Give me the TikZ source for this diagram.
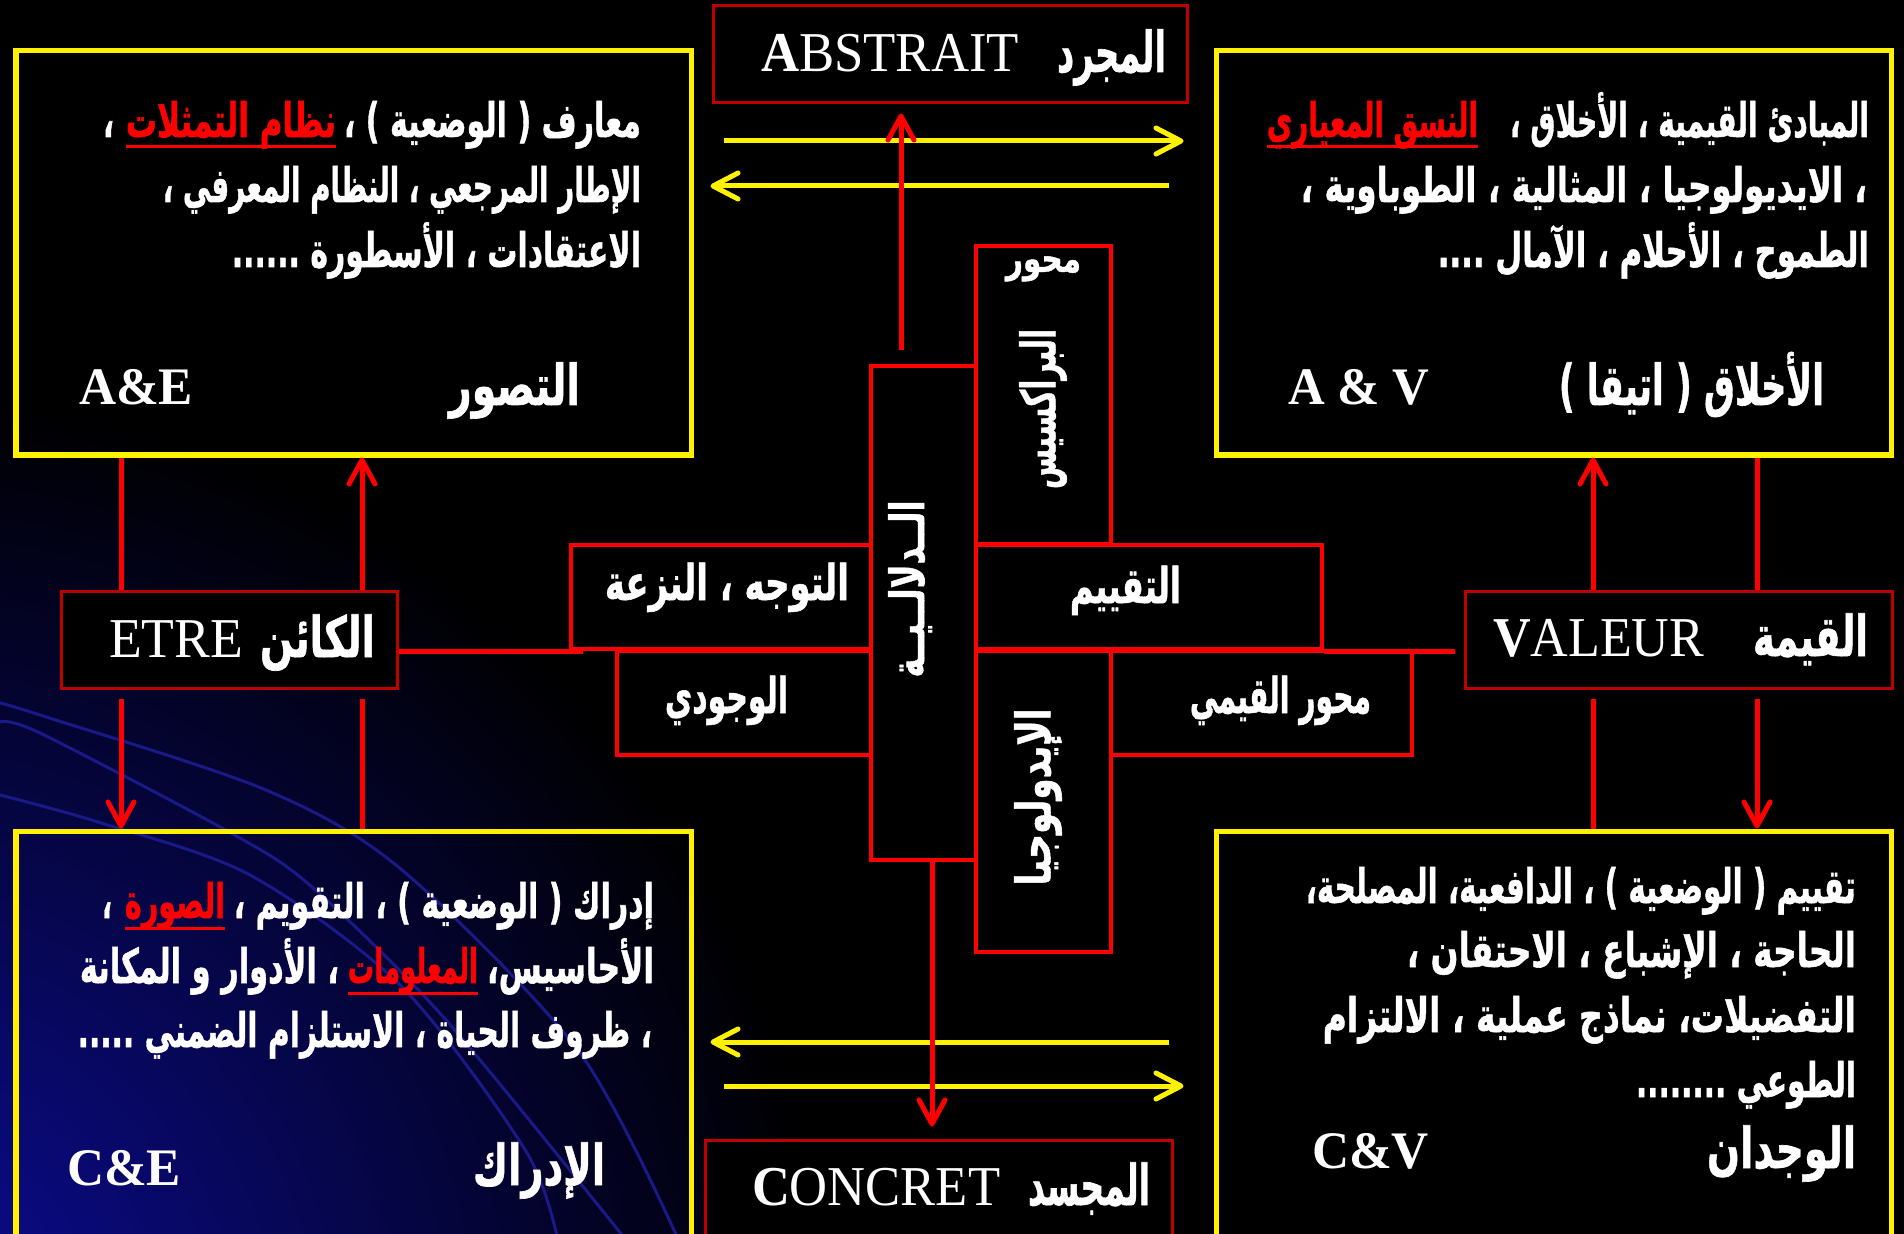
\documentclass[tikz,border=0pt]{standalone}
\usepackage{fontspec}
\usepackage{graphicx}
\setmainfont{Liberation Serif}
\newfontfamily\ar[Script=Arabic, BoldFeatures={FakeBold=1.2}]{DejaVu Sans}
\TeXXeTstate=1
\usetikzlibrary{arrows.meta,fit}
\definecolor{darkred}{RGB}{192,0,0}
\definecolor{bgblue}{RGB}{12,12,155}
\definecolor{arcblue}{RGB}{25,25,135}
\newbox\fitb
\newdimen\fitd
\newcommand\fitx[2]{\setbox\fitb\hbox{#2}\fitd=\wd\fitb\pgfmathsetmacro\fitr{#1*0.284528/\the\fitd}\scalebox{\fitr}[1]{\box\fitb}}
\newcommand\AR[1]{\beginR#1\endR}
\begin{document}
\begin{tikzpicture}[x=0.01cm,y=-0.01cm,
  ybox/.style={draw=yellow, line width=0.05cm, inner sep=0pt},
  rbox/.style={draw=darkred, line width=0.03cm, fill=black, inner sep=0pt},
  cbox/.style={draw=red, line width=0.045cm, fill=black, inner sep=0pt},
  yarrow/.style={draw=yellow, line width=0.05cm, -{Straight Barb[length=0.25cm,width=0.26cm,round]}},
  rline/.style={draw=red, line width=0.05cm},
  rarrow/.style={rline, -{Straight Barb[length=0.24cm,width=0.26cm,round]}},
  uline/.style={draw=red, line width=0.03cm},
  txt/.style={text=white, inner sep=0pt, outer sep=0pt},
  body/.style={txt, font=\ar\bfseries\fontsize{13.5pt}{15pt}\selectfont},
  redw/.style={body, text=red},
  arhead/.style={txt, font=\ar\bfseries\fontsize{16pt}{18pt}\selectfont},
  lab/.style={txt, font=\ar\bfseries\fontsize{14pt}{16pt}\selectfont},
  rlab/.style={txt, font=\ar\bfseries\fontsize{13.5pt}{15pt}\selectfont, rotate=90},
  code/.style={txt, font=\bfseries\fontsize{15pt}{17pt}\selectfont},
  lat/.style={txt, font=\fontsize{16pt}{18pt}\selectfont},
  arcline/.style={draw=arcblue, line width=0.03cm}
]
\path[use as bounding box, clip] (0,0) rectangle (1904,1234);
\fill[black] (0,0) rectangle (1904,1234);
\shade[inner color=bgblue, outer color=black] (-120,1340) circle (950);
\draw[arcline] plot[smooth] coordinates {(0,703) (40,715) (266,790) (402,870) (580,1053) (683,1250)};
\draw[arcline] plot[smooth] coordinates {(0,722) (40,733) (231,833) (312,887) (446,1020) (634,1250)};
\draw[arcline] plot[smooth] coordinates {(0,795) (98,822) (250,875) (402,987) (527,1153) (560,1250)};

% yellow boxes
\node[ybox, fit={(16,51) (691,455)}] (tl) {};
\node[ybox, fit={(1216,51) (1891,455)}] (tr) {};
\node[ybox, fit={(16,831) (691,1260)}] (bl) {};
\node[ybox, fit={(1216,831) (1891,1260)}] (br) {};

% red title boxes
\node[rbox, fit={(713,6) (1187,103)}] (abstrait) {};
\node[rbox, fit={(705,1140) (1172,1260)}] (concret) {};
\node[rbox, fit={(61,591) (397,688)}] (etre) {};
\node[rbox, fit={(1465,591) (1892,688)}] (valeur) {};

% central cross
\node[cbox, fit={(871,366) (976,860)}] (dalal) {};
\node[cbox, fit={(976,246) (1111,544)}] (praxis) {};
\node[cbox, fit={(976,545) (1322,649)}] (taqyim) {};
\node[cbox, fit={(976,651) (1111,952)}] (ideo) {};
\node[cbox, fit={(1111,651) (1412,755)}] (qiyami) {};
\node[cbox, fit={(571,545) (871,649)}] (tawajoh) {};
\node[cbox, fit={(617,651) (871,755)}] (wujudi) {};

% helper coordinates
\coordinate (ya) at (0,141);
\coordinate (yb) at (0,186);
\coordinate (yc) at (0,1042);
\coordinate (yd) at (0,1086);
\coordinate (xl) at (121,0);
\coordinate (xr) at (362,0);
\coordinate (vl) at (1593,0);
\coordinate (vr) at (1757,0);
\coordinate (ab1) at (901,350);
\coordinate (cc) at (932,0);

% yellow arrows
\draw[yarrow, shorten <=0.3cm, shorten >=0.3cm] (tl.east |- ya) -- (tr.west |- ya);
\draw[yarrow, shorten <=0.44cm, shorten >=0.17cm] (tr.west |- yb) -- (tl.east |- yb);
\draw[yarrow, shorten <=0.44cm, shorten >=0.17cm] (br.west |- yc) -- (bl.east |- yc);
\draw[yarrow, shorten <=0.3cm, shorten >=0.3cm] (bl.east |- yd) -- (br.west |- yd);

% red connectors
\draw[rline] (etre.north -| xl) -- (tl.south -| xl);
\draw[rarrow] (etre.north -| xr) -- (tl.south -| xr);
\draw[rarrow, shorten <=0.09cm] (etre.south -| xl) -- (bl.north -| xl);
\draw[rline, shorten <=0.09cm] (etre.south -| xr) -- (bl.north -| xr);
\draw[rarrow] (valeur.north -| vl) -- (tr.south -| vl);
\draw[rline] (tr.south -| vr) -- (valeur.north -| vr);
\draw[rline, shorten <=0.09cm] (valeur.south -| vl) -- (br.north -| vl);
\draw[rarrow, shorten <=0.09cm] (valeur.south -| vr) -- (br.north -| vr);
\draw[rline] (tawajoh.south west -| etre.east) -- ([xshift=0.14cm]tawajoh.south west);
\draw[rline, shorten >=0.09cm] (taqyim.south east) -- (valeur.west |- taqyim.south east);
\draw[rarrow, shorten >=0.09cm] (ab1) -- (abstrait.south -| ab1);
\draw[rarrow, shorten >=0.12cm] (dalal.south -| cc) -- (concret.north -| cc);

% texts: top-left
\node[body, anchor=base east] (tl1a) at (641,137) {\fitx{297}{\AR{معارف ( الوضعية ) ،}}};
\node[redw, anchor=base east] (tl1b) at (336,137) {\fitx{210}{\AR{نظام التمثلات}}};
\node[body, anchor=base east] (tl1c) at (114,137) {\fitx{11}{\AR{،}}};
\draw[uline] ([yshift=-0.1cm]tl1b.base west) -- ([yshift=-0.1cm]tl1b.base east);
\node[body, anchor=base east] (tl2) at (641,202) {\fitx{478}{\AR{الإطار المرجعي ، النظام المعرفي ،}}};
\node[body, anchor=base east] (tl3) at (641,267) {\fitx{409}{\AR{الاعتقادات ، الأسطورة ......}}};
\node[arhead, anchor=base east] (tlh) at (580,405) {\fitx{131}{\AR{التصور}}};
\node[code, anchor=base west] (tlc) at (79,405) {\fitx{114}{A\&E}};

% top-right
\node[body, anchor=base east] (tr1a) at (1869,137) {\fitx{359}{\AR{المبادئ القيمية ، الأخلاق ،}}};
\node[redw, anchor=base east] (tr1b) at (1478,137) {\fitx{211}{\AR{النسق المعياري}}};
\draw[uline] ([yshift=-0.1cm]tr1b.base west) -- ([yshift=-0.1cm]tr1b.base east);
\node[body, anchor=base east] (tr2) at (1867,202) {\fitx{566}{\AR{، الايديولوجيا ، المثالية ، الطوباوية ،}}};
\node[body, anchor=base east] (tr3) at (1869,267) {\fitx{431}{\AR{الطموح ، الأحلام ، الآمال ....}}};
\node[arhead, anchor=base east] (trh) at (1824,405) {\fitx{265}{\AR{الأخلاق ( اتيقا )}}};
\node[code, anchor=base west] (trc) at (1288,405) {\fitx{141}{A \& V}};

% bottom-left
\node[body, anchor=base east] (bl1a) at (654,918) {\fitx{420}{\AR{إدراك ( الوضعية ) ، التقويم ،}}};
\node[redw, anchor=base east] (bl1b) at (225,918) {\fitx{100}{\AR{الصورة}}};
\node[body, anchor=base east] (bl1c) at (112,918) {\fitx{10}{\AR{،}}};
\draw[uline] ([yshift=-0.1cm]bl1b.base west) -- ([yshift=-0.1cm]bl1b.base east);
\node[body, anchor=base east] (bl2a) at (654,983) {\fitx{167}{\AR{الأحاسيس،}}};
\node[redw, anchor=base east] (bl2b) at (478,983) {\fitx{130}{\AR{المعلومات}}};
\node[body, anchor=base east] (bl2c) at (339,983) {\fitx{259}{\AR{، الأدوار و المكانة}}};
\draw[uline] ([yshift=-0.1cm]bl2b.base west) -- ([yshift=-0.1cm]bl2b.base east);
\node[body, anchor=base east] (bl3) at (652,1047) {\fitx{574}{\AR{، ظروف الحياة ، الاستلزام الضمني .....}}};
\node[arhead, anchor=base east] (blh) at (605,1185) {\fitx{132}{\AR{الإدراك}}};
\node[code, anchor=base west] (blc) at (67,1185) {\fitx{114}{C\&E}};

% bottom-right
\node[body, anchor=base east] (br1) at (1856,903) {\fitx{550}{\AR{تقييم ( الوضعية ) ، الدافعية، المصلحة،}}};
\node[body, anchor=base east] (br2) at (1856,967) {\fitx{449}{\AR{الحاجة ، الإشباع ، الاحتقان ،}}};
\node[body, anchor=base east] (br3) at (1856,1032) {\fitx{533}{\AR{التفضيلات، نماذج عملية ، الالتزام}}};
\node[body, anchor=base east] (br4) at (1856,1097) {\fitx{220}{\AR{الطوعي ........}}};
\node[arhead, anchor=base east] (brh) at (1856,1168) {\fitx{149}{\AR{الوجدان}}};
\node[code, anchor=base west] (brc) at (1312,1168) {\fitx{117}{C\&V}};

% central labels
\node[lab, anchor=base east] (tawt) at (849,600) {\fitx{244}{\AR{التوجه ، النزعة}}};
\node[lab, anchor=base east] (wujt) at (788,713) {\fitx{123}{\AR{الوجودي}}};
\node[lab, anchor=base east] (taqt) at (1181,603) {\fitx{111}{\AR{التقييم}}};
\node[lab, anchor=base east] (qiyt) at (1371,713) {\fitx{181}{\AR{محور القيمي}}};
\node[lab, anchor=base east, font=\ar\bfseries\fontsize{11pt}{12pt}\selectfont] (mihw) at (1081,272) {\fitx{75}{\AR{محور}}};
\node[rlab] (prxt) at (1043,409) {\fitx{160}{\AR{البراكسيس}}};
\node[rlab] (dalt) at (910,589) {\fitx{177}{\AR{الــدلالــيــة}}};
\node[rlab] (ideot) at (1038,797) {\fitx{177}{\AR{الإيدولوجيا}}};

% title box labels
\node[lat, anchor=base west] (abst) at (761,72) {\fitx{258}{\textbf{A}BSTRAIT}};
\node[arhead, anchor=base east] (abar) at (1166,72) {\fitx{109}{\AR{المجرد}}};
\node[lat, anchor=base west] (conc) at (752,1205) {\fitx{248}{\textbf{C}ONCRET}};
\node[arhead, anchor=base east] (conar) at (1150,1205) {\fitx{122}{\AR{المجسد}}};
\node[lat, anchor=base west] (etrt) at (109,657) {\fitx{134}{ETRE}};
\node[arhead, anchor=base east] (etrar) at (375,657) {\fitx{115}{\AR{الكائن}}};
\node[lat, anchor=base west] (valt) at (1493,656) {\fitx{211}{\textbf{V}ALEUR}};
\node[arhead, anchor=base east] (valar) at (1868,656) {\fitx{115}{\AR{القيمة}}};
\end{tikzpicture}
\end{document}
